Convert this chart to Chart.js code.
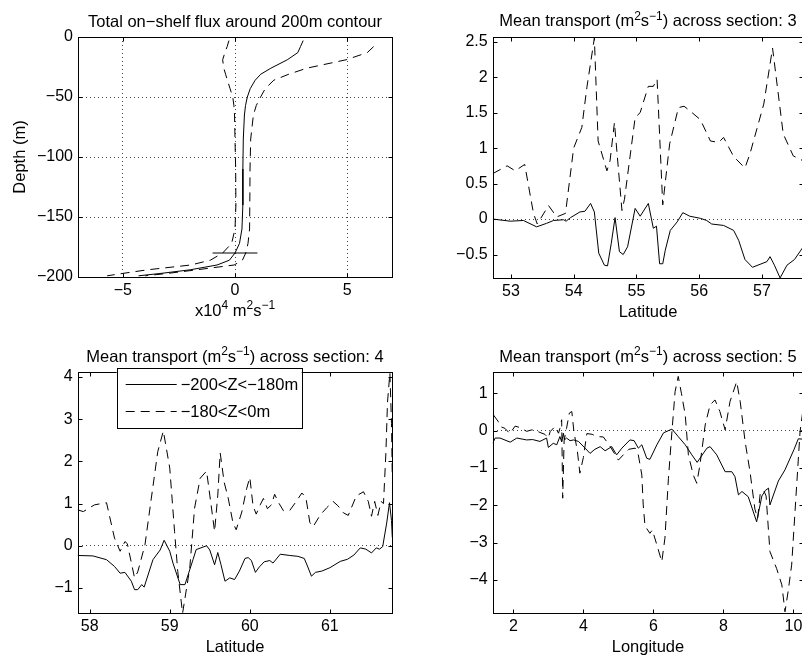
<!DOCTYPE html>
<html>
<head>
<meta charset="utf-8">
<script src="https://cdn.jsdelivr.net/npm/chart.js@4"></script>
<style>
  html, body { margin: 0; padding: 0; background: #fff; overflow: hidden; }
  body { width: 802px; height: 658px; position: relative; }
  canvas { position: absolute; }
</style>
</head>
<body>
<canvas id="p1"></canvas>
<canvas id="p2"></canvas>
<canvas id="p3"></canvas>
<canvas id="p4"></canvas>
<script>
// ---- panel 1: total on-shelf flux vs depth ----
const depth1 = [-3, -8, -13, -19, -26, -31, -36, -43, -50, -57, -65, -85, -110, -140, -160, -172, -180, -186, -190, -194, -197, -199];
const fluxMean1 = [3.04, 2.92, 2.8, 2.33, 1.6, 1.15, 0.9, 0.68, 0.55, 0.47, 0.42, 0.37, 0.35, 0.35, 0.31, 0.2, 0.0, -0.25, -0.8, -2.0, -3.3, -4.3];
const fluxUpper1 = [null, 6.18, 5.9, 4.95, 3.2, 2.4, 1.73, 1.35, 1.14, 0.95, 0.82, 0.7, 0.67, 0.66, 0.65, 0.58, 0.48, 0.33, -0.04, -1.7, -3.0, -4.0];
const fluxLower1 = [-0.27, -0.35, -0.45, -0.55, -0.5, -0.42, -0.34, -0.22, -0.1, -0.05, -0.02, 0.0, 0.03, 0.04, 0.0, -0.15, -0.55, -1.1, -1.97, -3.9, -5.0, -5.7];
const shelfX1 = [-1, 1];
const shelfDepth1 = [-180, -180];

// ---- section 3 ----
const lat3Deep = [52.71, 52.99, 53.2, 53.41, 53.57, 53.68, 53.84, 53.88, 53.95, 54.1, 54.18, 54.27, 54.33, 54.4, 54.49, 54.54, 54.6, 54.66, 54.73, 54.79, 54.86, 54.98, 55.06, 55.19, 55.27, 55.32, 55.37, 55.42, 55.46, 55.54, 55.65, 55.74, 55.85, 56.02, 56.12, 56.2, 56.39, 56.55, 56.63, 56.73, 56.85, 57.08, 57.13, 57.2, 57.29, 57.4, 57.52, 57.66];
const flux3Deep = [0, -0.03, -0.02, -0.11, -0.06, -0.02, -0.01, -0.03, 0.02, 0.1, 0.11, 0.22, 0.1, -0.48, -0.65, -0.66, -0.34, 0.02, -0.46, -0.5, -0.39, 0.15, 0.04, 0.22, -0.13, -0.1, -0.63, -0.63, -0.44, -0.16, -0.04, 0.09, 0.04, 0.01, -0.02, -0.07, -0.09, -0.16, -0.3, -0.57, -0.68, -0.6, -0.53, -0.65, -0.83, -0.65, -0.57, -0.39];
const lat3Upper = [52.71, 52.94, 53.07, 53.22, 53.36, 53.42, 53.6, 53.73, 53.87, 54.0, 54.13, 54.21, 54.33, 54.39, 54.53, 54.58, 54.65, 54.77, 54.81, 54.98, 55.06, 55.19, 55.27, 55.33, 55.42, 55.53, 55.67, 55.76, 55.86, 56.02, 56.18, 56.31, 56.39, 56.55, 56.73, 56.81, 57.03, 57.17, 57.34, 57.5, 57.66];
const flux3Upper = [0.64, 0.75, 0.68, 0.77, 0.08, -0.07, 0.19, 0.03, 0.08, 1.0, 1.29, 1.85, 2.55, 1.1, 0.68, 0.82, 1.36, 0.12, 0.28, 1.43, 1.5, 1.87, 1.87, 1.97, 0.2, 1.06, 1.57, 1.59, 1.52, 1.4, 1.1, 1.08, 1.15, 0.88, 0.72, 0.92, 1.62, 2.41, 1.2, 0.89, 0.82];

// ---- section 4 ----
const lat4Deep = [57.85, 58.04, 58.21, 58.31, 58.38, 58.44, 58.52, 58.56, 58.6, 58.65, 58.68, 58.79, 58.88, 58.93, 59.0, 59.04, 59.13, 59.19, 59.29, 59.33, 59.46, 59.5, 59.56, 59.6, 59.64, 59.69, 59.75, 59.81, 59.87, 59.94, 59.98, 60.02, 60.07, 60.12, 60.18, 60.25, 60.29, 60.38, 60.5, 60.6, 60.68, 60.72, 60.77, 60.82, 60.9, 61.0, 61.13, 61.22, 61.3, 61.38, 61.45, 61.52, 61.58, 61.62, 61.66, 61.71, 61.745, 61.77, 61.78];
const flux4Deep = [-0.23, -0.24, -0.33, -0.49, -0.65, -0.63, -0.84, -1.04, -1.04, -0.92, -0.98, -0.33, -0.1, 0.13, -0.13, -0.41, -0.92, -0.92, -0.33, -0.09, 0.0, -0.1, -0.45, -0.16, -0.45, -0.84, -0.76, -0.8, -0.6, -0.3, -0.28, -0.35, -0.63, -0.5, -0.38, -0.35, -0.41, -0.2, -0.23, -0.25, -0.3, -0.48, -0.72, -0.63, -0.6, -0.52, -0.37, -0.32, -0.22, -0.05, -0.08, -0.17, -0.05, -0.08, -0.02, 0.54, 1.02, 0.6, 0.2];
const lat4Upper = [57.85, 57.92, 58.06, 58.21, 58.31, 58.38, 58.44, 58.47, 58.56, 58.6, 58.69, 58.77, 58.85, 58.92, 59.0, 59.06, 59.1, 59.16, 59.25, 59.31, 59.38, 59.46, 59.5, 59.56, 59.6, 59.63, 59.68, 59.73, 59.79, 59.83, 59.9, 59.96, 60.0, 60.04, 60.08, 60.13, 60.17, 60.22, 60.27, 60.31, 60.36, 60.42, 60.5, 60.58, 60.65, 60.7, 60.75, 60.79, 60.88, 60.96, 61.04, 61.1, 61.17, 61.23, 61.33, 61.42, 61.48, 61.52, 61.56, 61.6, 61.64, 61.67, 61.7, 61.72, 61.75, 61.77, 61.78];
const flux4Upper = [0.85, 0.81, 0.97, 1.02, 0.18, -0.13, 0.1, 0.05, -0.76, -0.62, 0.02, 1.13, 2.23, 2.72, 1.84, 0.34, -0.61, -1.6, -0.53, 0.89, 1.6, 1.77, 1.2, 0.34, 1.2, 2.2, 1.5, 1.13, 0.54, 0.38, 0.8, 1.35, 1.62, 0.95, 0.75, 0.97, 1.12, 0.88, 0.97, 1.22, 1.02, 0.83, 0.84, 1.05, 1.25, 1.15, 0.55, 0.45, 0.73, 0.9, 1.05, 0.95, 0.78, 0.72, 1.18, 1.28, 1.05, 0.7, 1.05, 0.72, 1.05, 1.0, 2.2, 3.4, 4.1, 2.9, 1.6];

// ---- section 5 ----
const lon5Deep = [1.41, 1.48, 1.62, 1.91, 2.1, 2.38, 2.55, 2.76, 2.95, 3.0, 3.14, 3.24, 3.33, 3.38, 3.43, 3.46, 3.52, 3.62, 3.72, 3.86, 4.05, 4.19, 4.33, 4.48, 4.62, 4.81, 4.95, 5.1, 5.33, 5.45, 5.57, 5.67, 5.81, 5.9, 6.1, 6.29, 6.53, 6.71, 6.91, 7.1, 7.25, 7.53, 7.62, 7.81, 8.05, 8.24, 8.33, 8.43, 8.53, 8.71, 8.95, 9.1, 9.2, 9.29, 9.33, 9.57, 9.76, 10.02, 10.14, 10.28];
const flux5Deep = [-0.34, -0.2, -0.2, -0.31, -0.2, -0.25, -0.24, -0.29, -0.2, -0.45, -0.34, -0.38, -0.16, -0.3, -0.07, -0.25, -0.2, -0.27, -0.25, -0.29, -0.47, -0.61, -0.5, -0.43, -0.54, -0.43, -0.65, -0.47, -0.25, -0.27, -0.47, -0.38, -0.74, -0.77, -0.38, -0.06, 0.04, -0.16, -0.38, -0.65, -0.85, -0.47, -0.43, -0.65, -1.1, -1.1, -1.23, -1.72, -1.63, -1.77, -2.44, -1.75, -1.6, -1.54, -1.99, -1.35, -1.05, -0.5, -0.22, -0.23];
const lon5Upper = [1.43, 1.57, 1.62, 1.76, 1.9, 2.05, 2.19, 2.38, 2.53, 2.65, 2.76, 2.9, 3.0, 3.05, 3.19, 3.29, 3.33, 3.38, 3.41, 3.45, 3.52, 3.6, 3.67, 3.73, 3.83, 3.9, 4.0, 4.1, 4.25, 4.38, 4.57, 4.75, 5.0, 5.14, 5.3, 5.48, 5.57, 5.67, 5.71, 5.76, 5.9, 5.97, 6.1, 6.24, 6.33, 6.43, 6.53, 6.62, 6.71, 6.8, 6.91, 7.0, 7.14, 7.24, 7.33, 7.48, 7.62, 7.76, 7.9, 8.05, 8.19, 8.38, 8.48, 8.62, 8.76, 8.9, 8.98, 9.05, 9.15, 9.22, 9.29, 9.33, 9.52, 9.67, 9.76, 9.85, 9.95, 10.1, 10.19, 10.28];
const flux5Upper = [0.42, 0.24, 0.11, 0.06, -0.08, 0.12, 0.08, -0.02, 0.02, 0.0, -0.05, -0.1, -0.2, -0.03, 0.11, -0.07, 0.06, 0.29, -1.81, -0.27, 0.06, 0.47, 0.51, -0.03, -0.56, -1.14, -0.72, -0.08, -0.1, -0.16, -0.17, -0.4, -0.79, -0.65, -0.5, -0.47, -0.65, -1.19, -1.99, -2.55, -2.75, -2.66, -3.06, -3.51, -2.88, -1.28, -0.03, 1.04, 1.45, 1.0, 0.42, -0.65, -1.19, -1.41, -0.92, 0.15, 0.69, 0.82, 0.51, 0.02, 0.78, 1.31, 0.78, -0.29, -1.1, -2.1, -2.35, -1.7, -1.6, -1.75, -2.7, -3.24, -3.69, -4.13, -4.85, -4.3, -3.6, -1.37, -0.03, 0.6];

// tick labels
const ticks1x = [-5, 0, 5];
const ticks1y = [-200, -150, -100, -50, 0];
const ticks3x = [53, 54, 55, 56, 57];
const ticks3y = [-0.5, 0, 0.5, 1, 1.5, 2, 2.5];
const ticks4x = [58, 59, 60, 61];
const ticks4y = [-1, 0, 1, 2, 3, 4];
const ticks5x = [2, 4, 6, 8, 10];
const ticks5y = [-4, -3, -2, -1, 0, 1];

const legendLabels = ['\u2212200<Z<\u2212180m', '\u2212180<Z<0m'];

const FONT = '"Liberation Sans", Arial, Helvetica, sans-serif';
const FS = 16;
const TFS = 16.5;
const DASH = [9, 6];

function toPoints(xs, ys) {
  const out = [];
  xs.forEach((x, i) => {
    if (x !== null && ys[i] !== null) out.push({ x: x, y: ys[i] });
  });
  return out;
}

function line(points, dashed) {
  return {
    data: points, showLine: true, borderColor: '#000', borderWidth: 1,
    borderDash: dashed ? DASH : [], pointRadius: 0, pointHoverRadius: 0, fill: false, tension: 0
  };
}

function fmtTick(v) {
  return String(v).replace('-', '\u2212');
}

// text with ^{...} superscripts
function parseRich(s) {
  const segs = [];
  const re = /\^\{([^}]*)\}/g;
  let last = 0, m;
  while ((m = re.exec(s))) {
    if (m.index > last) segs.push({ t: s.slice(last, m.index), sup: false });
    segs.push({ t: m[1], sup: true });
    last = re.lastIndex;
  }
  if (last < s.length) segs.push({ t: s.slice(last), sup: false });
  return segs;
}

function drawRich(ctx, s, cx, baseline) {
  const segs = parseRich(s);
  const small = Math.round(TFS * 0.72);
  let w = 0;
  segs.forEach(g => {
    ctx.font = (g.sup ? small : TFS) + 'px ' + FONT;
    g.w = ctx.measureText(g.t).width;
    w += g.w;
  });
  let x = cx - w / 2;
  ctx.textAlign = 'left';
  ctx.textBaseline = 'alphabetic';
  segs.forEach(g => {
    ctx.font = (g.sup ? small : TFS) + 'px ' + FONT;
    ctx.fillText(g.t, x, g.sup ? baseline - TFS * 0.4 : baseline);
    x += g.w;
  });
}

const panelPlugin = {
  id: 'panel',
  afterDraw(chart, args, opts) {
    const ctx = chart.ctx;
    const a = chart.chartArea;
    const L = Math.round(a.left) + 0.5, R = Math.round(a.right) + 0.5;
    const T = Math.round(a.top) + 0.5, B = Math.round(a.bottom) + 0.5;
    ctx.save();
    ctx.strokeStyle = '#000';
    ctx.fillStyle = '#000';
    ctx.lineWidth = 1;
    ctx.setLineDash([]);
    ctx.strokeRect(L, T, R - L, B - T);
    // inward ticks on all four sides
    const tl = 4;
    ctx.beginPath();
    chart.scales.x.ticks.forEach(t => {
      const px = Math.round(chart.scales.x.getPixelForValue(t.value)) + 0.5;
      ctx.moveTo(px, B); ctx.lineTo(px, B - tl);
      ctx.moveTo(px, T); ctx.lineTo(px, T + tl);
    });
    chart.scales.y.ticks.forEach(t => {
      const py = Math.round(chart.scales.y.getPixelForValue(t.value)) + 0.5;
      ctx.moveTo(L, py); ctx.lineTo(L + tl, py);
      ctx.moveTo(R, py); ctx.lineTo(R - tl, py);
    });
    ctx.stroke();
    const cx = (a.left + a.right) / 2;
    if (opts.title) drawRich(ctx, opts.title, cx, a.top - 10.5);
    if (opts.xTitle) drawRich(ctx, opts.xTitle, cx, a.bottom + 38.5);
    if (opts.yTitle) {
      ctx.save();
      ctx.translate(a.left - 58, (a.top + a.bottom) / 2);
      ctx.rotate(-Math.PI / 2);
      ctx.font = TFS + 'px ' + FONT;
      ctx.textAlign = 'center';
      ctx.textBaseline = 'middle';
      ctx.fillText(opts.yTitle, 0, 0);
      ctx.restore();
    }
    if (opts.legend) {
      const lg = opts.legend;
      const bx = a.left + 39, by = a.top - 4.5, bw = 185, bh = 59.5;
      ctx.fillStyle = '#fff';
      ctx.fillRect(bx, by, bw, bh);
      ctx.strokeStyle = '#000';
      ctx.strokeRect(Math.round(bx) + 0.5, Math.round(by) + 0.5, Math.round(bw), Math.round(bh));
      ctx.fillStyle = '#000';
      ctx.font = TFS + 'px ' + FONT;
      ctx.textAlign = 'left';
      ctx.textBaseline = 'middle';
      const rows = [by + 16.5, by + 43.5];
      lg.forEach((label, i) => {
        ctx.setLineDash(i === 0 ? [] : DASH);
        ctx.beginPath();
        ctx.moveTo(bx + 9, Math.round(rows[i]) + 0.5);
        ctx.lineTo(bx + 60, Math.round(rows[i]) + 0.5);
        ctx.stroke();
        ctx.setLineDash([]);
        ctx.fillText(label, bx + 64, rows[i] + 1);
      });
    }
    ctx.restore();
  }
};

function makePanel(id, cfg) {
  const c = document.getElementById(id);
  c.width = cfg.canvas.w;
  c.height = cfg.canvas.h;
  c.style.left = cfg.canvas.x + 'px';
  c.style.top = cfg.canvas.y + 'px';
  const yWidth = cfg.box.l - cfg.canvas.x;
  const padTop = cfg.box.t - cfg.canvas.y;
  const padRight = cfg.canvas.x + cfg.canvas.w - cfg.box.r;
  const xHeight = cfg.canvas.y + cfg.canvas.h - cfg.box.b;
  const tickFont = { family: FONT, size: FS };
  const zeroOnly = ctx => (ctx.tick && ctx.tick.value === 0) ? '#444' : 'rgba(0,0,0,0)';
  return new Chart(c, {
    type: 'scatter',
    data: { datasets: cfg.datasets },
    plugins: [panelPlugin],
    options: {
      responsive: false,
      animation: false,
      events: [],
      layout: { padding: { top: padTop, right: padRight, left: 0, bottom: 0 } },
      plugins: {
        legend: { display: false },
        tooltip: { enabled: false },
        panel: cfg.text
      },
      scales: {
        x: {
          type: 'linear', min: cfg.xMin, max: cfg.xMax,
          afterBuildTicks: s => { s.ticks = cfg.xTicks.map(v => ({ value: v })); },
          afterFit: s => { s.height = xHeight; s.paddingLeft = 0; s.paddingRight = 0; },
          ticks: { font: tickFont, color: '#000', padding: 4, maxRotation: 0, autoSkip: false, callback: fmtTick },
          grid: { display: cfg.fullGrid, color: '#444', lineWidth: 1, drawTicks: false },
          border: { display: false, dash: [1, 3] }
        },
        y: {
          type: 'linear', min: cfg.yMin, max: cfg.yMax,
          afterBuildTicks: s => { s.ticks = cfg.yTicks.map(v => ({ value: v })); },
          afterFit: s => { s.width = yWidth; s.paddingTop = 0; s.paddingBottom = 0; },
          ticks: { font: tickFont, color: '#000', padding: 5, autoSkip: false, callback: fmtTick },
          grid: { color: cfg.fullGrid ? '#444' : zeroOnly, lineWidth: 1, drawTicks: false },
          border: { display: false, dash: [1, 3] }
        }
      }
    }
  });
}

makePanel('p1', {
  canvas: { x: 0, y: 0, w: 400, h: 330 },
  box: { l: 78, t: 37, r: 392, b: 277 },
  xMin: -7, xMax: 7, yMin: -200, yMax: 0,
  xTicks: ticks1x, yTicks: ticks1y, fullGrid: true,
  text: { title: 'Total on\u2212shelf flux around 200m contour', xTitle: 'x10^{4} m^{2}s^{\u22121}', yTitle: 'Depth (m)' },
  datasets: [
    line(toPoints(fluxMean1, depth1), false),
    line(toPoints(fluxUpper1, depth1), true),
    line(toPoints(fluxLower1, depth1), true),
    line(toPoints(shelfX1, shelfDepth1), false)
  ]
});

makePanel('p2', {
  canvas: { x: 400, y: 0, w: 406, h: 330 },
  box: { l: 492.7, t: 36.7, r: 803.3, b: 278.3 },
  xMin: 52.71, xMax: 57.66, yMin: -0.835, yMax: 2.57,
  xTicks: ticks3x, yTicks: ticks3y, fullGrid: false,
  text: { title: 'Mean transport (m^{2}s^{\u22121}) across section: 3', xTitle: 'Latitude' },
  datasets: [
    line(toPoints(lat3Deep, flux3Deep), false),
    line(toPoints(lat3Upper, flux3Upper), true)
  ]
});

makePanel('p3', {
  canvas: { x: 0, y: 330, w: 400, h: 328 },
  box: { l: 77.7, t: 372.3, r: 392.3, b: 613.3 },
  xMin: 57.85, xMax: 61.78, yMin: -1.6, yMax: 4.11,
  xTicks: ticks4x, yTicks: ticks4y, fullGrid: false,
  text: { title: 'Mean transport (m^{2}s^{\u22121}) across section: 4', xTitle: 'Latitude', legend: legendLabels },
  datasets: [
    line(toPoints(lat4Deep, flux4Deep), false),
    line(toPoints(lat4Upper, flux4Upper), true)
  ]
});

makePanel('p4', {
  canvas: { x: 400, y: 330, w: 406, h: 328 },
  box: { l: 492.7, t: 372.3, r: 803.2, b: 613.3 },
  xMin: 1.41, xMax: 10.28, yMin: -4.89, yMax: 1.56,
  xTicks: ticks5x, yTicks: ticks5y, fullGrid: false,
  text: { title: 'Mean transport (m^{2}s^{\u22121}) across section: 5', xTitle: 'Longitude' },
  datasets: [
    line(toPoints(lon5Deep, flux5Deep), false),
    line(toPoints(lon5Upper, flux5Upper), true)
  ]
});
</script>
</body>
</html>
